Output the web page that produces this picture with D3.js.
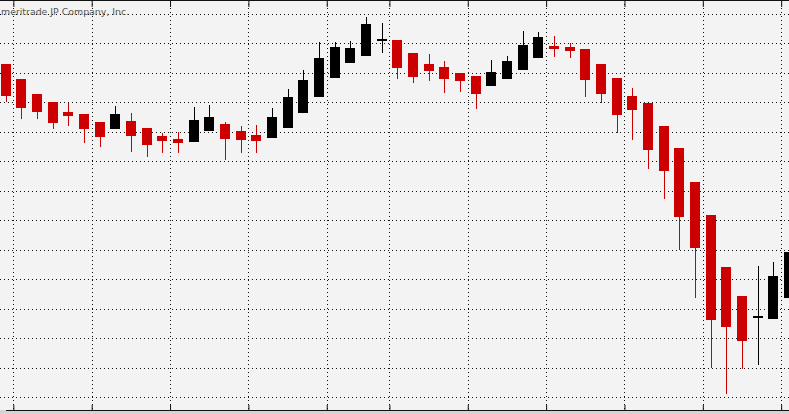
<!DOCTYPE html>
<html>
<head>
<meta charset="utf-8">
<script src="https://cdn.jsdelivr.net/npm/d3@7"></script>
<style>
  html, body { margin: 0; padding: 0; background: #f3f3f3; overflow: hidden; }
  svg { display: block; }
</style>
</head>
<body>
<svg id="chart"></svg>
<script>
// daily candles, oldest first (red = down, black = up)
const opens  = [1112.9,1107.8,1102.7,1100.0,1096.6,1095.9,1093.2,1090.9,1093.6,1091.2,
                1088.5,1087.5,1086.4,1090.2,1092.5,1090.2,1088.8,1087.8,1091.2,1096.3,
                1101.7,1108.1,1113.2,1115.6,1120.8,1121.0,1116.6,1112.9,1111.9,1109.8,
                1108.8,1105.4,1107.8,1110.9,1114.9,1119.0,1118.6,1118.0,1112.9,1108.1,
                1102.0,1099.7,1091.9,1084.4,1072.9,1061.7,1044.1,1034.2,1026.9,1026.4,
                1033.6];
const highs  = [1112.9,1107.8,1102.7,1100.0,1099.7,1095.9,1093.2,1098.6,1096.3,1091.2,
                1089.5,1089.8,1098.3,1099.0,1093.2,1091.9,1092.2,1098.0,1104.4,1110.9,
                1120.3,1120.3,1120.7,1128.8,1126.8,1121.0,1116.6,1116.3,1113.9,1109.8,
                1108.8,1114.2,1115.6,1124.1,1123.7,1122.4,1120.0,1118.0,1112.9,1108.1,
                1104.7,1099.7,1091.9,1084.4,1072.9,1061.7,1044.1,1034.2,1044.4,1045.8,
                1049.2];
const lows   = [1100.0,1094.2,1094.2,1090.9,1091.9,1086.1,1084.7,1090.9,1083.1,1081.4,
                1082.7,1082.7,1086.4,1090.2,1080.3,1082.7,1082.7,1087.8,1091.2,1096.3,
                1101.7,1108.1,1113.2,1115.6,1116.6,1107.8,1106.4,1107.1,1103.1,1103.4,
                1097.6,1105.4,1107.8,1110.9,1114.9,1115.3,1114.9,1101.7,1099.7,1089.5,
                1087.1,1077.3,1067.1,1049.8,1033.6,1009.8,1001.0,1009.5,1010.8,1026.4,
                1033.6];
const closes = [1102.0,1098.0,1096.6,1092.9,1095.3,1090.9,1088.1,1095.9,1088.5,1085.4,
                1086.8,1086.1,1093.9,1094.9,1087.5,1087.1,1086.8,1094.9,1101.7,1107.5,
                1114.9,1118.6,1118.3,1126.4,1121.0,1111.5,1108.5,1110.5,1107.8,1107.1,
                1102.7,1110.2,1113.9,1119.3,1122.0,1118.0,1117.3,1107.5,1102.7,1095.6,
                1097.3,1083.7,1076.6,1061.0,1050.5,1026.1,1023.7,1019.0,1027.1,1041.0,
                1049.2];

// last trading day of each week (vertical grid sits after it)
const weekEnds = [0, 5, 10, 15, 20, 24, 29, 34, 39, 44, 49];
// horizontal grid levels
const priceLevels = d3.range(1000, 1131, 10);

const W = 789, H = 414;
const axisY = 410;

const candles = opens.map((o, i) => ({
  i, open: o, high: highs[i], low: lows[i], close: closes[i]
}));

const svg = d3.select("#chart")
  .attr("width", W)
  .attr("height", H);

// scales
const x = d3.scaleLinear()
  .domain([0, 50])
  .range([5.5, 789]);
const y = d3.scaleLinear()
  .domain([1000, 1130])
  .range([397, 13.5]);

// plot background
svg.append("rect")
  .attr("width", W).attr("height", axisY)
  .attr("fill", "#f3f3f3");
svg.append("rect")
  .attr("y", axisY).attr("width", W).attr("height", H - axisY)
  .attr("fill", "#d4d4d4");

// grid
const grid = svg.append("g")
  .attr("stroke", "#111")
  .attr("stroke-width", 1)
  .attr("stroke-dasharray", "1,3")
  .attr("shape-rendering", "crispEdges");

grid.selectAll("line.h")
  .data(priceLevels)
  .enter().append("line")
    .attr("class", "h")
    .attr("x1", 0).attr("x2", W)
    .attr("y1", d => Math.round(y(d)) + 0.5)
    .attr("y2", d => Math.round(y(d)) + 0.5);

grid.selectAll("line.v")
  .data(weekEnds)
  .enter().append("line")
    .attr("class", "v")
    .attr("x1", d => Math.round(x(d + 0.5)) + 0.5)
    .attr("x2", d => Math.round(x(d + 0.5)) + 0.5)
    .attr("y1", 0).attr("y2", axisY);

// top frame + ticks
svg.append("line")
  .attr("x1", 0).attr("x2", W)
  .attr("y1", 0.5).attr("y2", 0.5)
  .attr("stroke", "#111");
svg.append("g")
  .attr("transform", "translate(0,1)")
  .call(d3.axisBottom(x).tickValues(weekEnds.map(d => d + 0.5)).tickSize(6).tickFormat(""))
  .call(g => g.select(".domain").remove())
  .selectAll("line").attr("stroke", "#111");

// bottom axis
svg.append("g")
  .attr("transform", `translate(0,${axisY})`)
  .call(d3.axisTop(x).tickValues(weekEnds.map(d => d + 0.5)).tickSize(5).tickSizeOuter(0).tickFormat(""))
  .call(g => g.select(".domain").attr("stroke", "#111"))
  .selectAll("line").attr("stroke", "#111");

// copyright text (cut at the left edge in the source)
svg.append("text")
  .attr("x", 1)
  .attr("y", 15)
  .attr("font-family", "DejaVu Sans, sans-serif")
  .attr("font-size", 9.4)
  .attr("fill", "#555")
  .text("meritrade JP Company, Inc.");

// candles
const colorOf = d => d.close < d.open ? "#cc0000" : "#000000";

const cg = svg.append("g").attr("shape-rendering", "crispEdges");

cg.selectAll("line.wick")
  .data(candles)
  .enter().append("line")
    .attr("class", "wick")
    .attr("x1", d => Math.round(x(d.i)) + 0.5)
    .attr("x2", d => Math.round(x(d.i)) + 0.5)
    .attr("y1", d => y(d.high))
    .attr("y2", d => y(d.low))
    .attr("stroke", colorOf)
    .attr("stroke-width", 1);

cg.selectAll("rect.body")
  .data(candles)
  .enter().append("rect")
    .attr("class", "body")
    .attr("x", d => Math.round(x(d.i)) - 5)
    .attr("width", 10)
    .attr("y", d => {
      const top = y(Math.max(d.open, d.close));
      const h = Math.abs(y(d.open) - y(d.close));
      return h < 2 ? (top + h / 2) - 1 : top;
    })
    .attr("height", d => Math.max(2, Math.abs(y(d.open) - y(d.close))))
    .attr("fill", colorOf);
</script>
</body>
</html>
